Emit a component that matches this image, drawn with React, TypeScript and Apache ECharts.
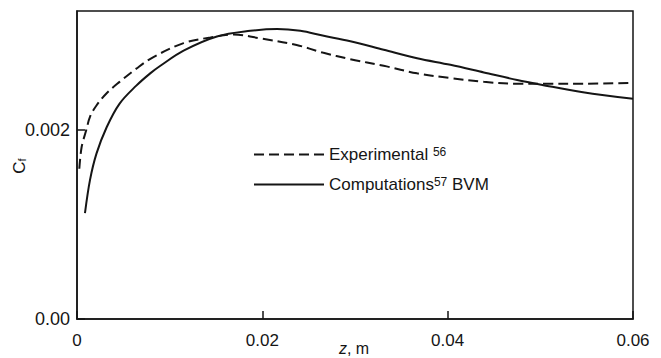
import React, { useEffect, useRef } from "react";
import * as echarts from "echarts";

// z, m
const expX = [0.00025, 0.0005, 0.001, 0.0014, 0.0021, 0.0032, 0.0046, 0.0064, 0.0082, 0.0115, 0.0144, 0.0169, 0.0198, 0.0237, 0.0265, 0.0295, 0.0331, 0.0367, 0.0403, 0.0439, 0.0475, 0.051, 0.0546, 0.06];
const expY = [0.00159, 0.00182, 0.002, 0.00214, 0.00226, 0.00239, 0.00251, 0.00265, 0.00277, 0.00292, 0.00298, 0.00301, 0.00297, 0.0029, 0.00282, 0.00275, 0.00268, 0.0026, 0.00255, 0.00251, 0.00249, 0.00249, 0.00249, 0.0025];

const compX = [0.00086, 0.0014, 0.0021, 0.0032, 0.0046, 0.0064, 0.0079, 0.009, 0.0115, 0.0151, 0.0187, 0.0216, 0.0241, 0.0265, 0.0295, 0.0331, 0.0367, 0.0403, 0.0439, 0.0475, 0.0501, 0.0546, 0.06];
const compY = [0.00112, 0.00147, 0.00175, 0.00203, 0.00228, 0.00247, 0.0026, 0.00268, 0.00284, 0.00299, 0.00305, 0.00307, 0.00305, 0.003, 0.00294, 0.00285, 0.00276, 0.00269, 0.00261, 0.00253, 0.00248, 0.0024, 0.00233];

const xTicks = [0, 0.02, 0.04, 0.06];
const yTickLabels: Record<string, string> = { "0": "0.00", "0.002": "0.002" };
const seriesNames = ["Experimental", "Computations"];

const FONT = "Liberation Sans";
const INK = "#151515";

export default function App() {
  const ref = useRef<HTMLDivElement>(null);
  useEffect(() => {
    if (!ref.current) return;
    const chart = echarts.init(ref.current, null, { renderer: "svg" });
    const zip = (xs: number[], ys: number[]) => xs.map((x, i) => [x, ys[i]]);
    chart.setOption({
      animation: false,
      backgroundColor: "#fff",
      grid: {
        left: 77,
        right: 28,
        top: 11,
        bottom: 39,
        show: true,
        borderColor: INK,
        borderWidth: 1.5,
        outerBoundsMode: "none",
        containLabel: false,
      },
      graphic: [
        {
          type: "text",
          x: 19,
          y: 166,
          rotation: Math.PI / 2,
          style: {
            text: "{c|C}{s|f}",
            align: "center",
            verticalAlign: "middle",
            fill: INK,
            rich: {
              c: { fontFamily: FONT, fontSize: 17, fill: INK, color: INK },
              s: { fontFamily: FONT, fontSize: 11, fill: INK, color: INK, verticalAlign: "bottom" },
            },
          },
        },
        {
          type: "text",
          x: 354,
          y: 348,
          style: {
            text: "{i|z}, m",
            align: "center",
            verticalAlign: "middle",
            fill: INK,
            rich: {
              i: { fontFamily: FONT, fontSize: 16, fontStyle: "italic", fill: INK, color: INK },
            },
            font: "16px 'Liberation Sans'",
          },
        },
      ],
      legend: {
        orient: "vertical",
        left: 248,
        top: 141,
        itemWidth: 70,
        itemHeight: 14,
        itemGap: 13,
        data: seriesNames,
        itemStyle: { color: "rgba(0,0,0,0)", borderWidth: 0, opacity: 0 },
        textStyle: {
          fontFamily: FONT,
          fontSize: 17,
          color: INK,
          rich: {
            sup: { fontFamily: FONT, fontSize: 12, color: INK, verticalAlign: "top", lineHeight: 12 },
          },
        },
        formatter: (name: string) =>
          name === "Experimental" ? "Experimental {sup|56}" : "Computations{sup|57} BVM",
      },
      xAxis: {
        type: "value",
        min: 0,
        max: 0.06,
        interval: 0.02,
        axisLine: { show: true, lineStyle: { color: INK, width: 1.5 } },
        axisTick: { show: true, inside: true, length: 8, lineStyle: { color: INK, width: 1.5 } },
        axisLabel: {
          fontFamily: FONT,
          fontSize: 17,
          color: INK,
          margin: 13,
          formatter: (v: number) => {
            const t = xTicks.find((k) => Math.abs(k - v) < 1e-9);
            if (t === undefined) return "";
            return t === 0 ? "0" : t.toFixed(2);
          },
        },
        splitLine: { show: false },
      },
      yAxis: {
        type: "value",
        min: 0,
        max: 0.00326,
        interval: 0.002,
        axisLine: { show: true, lineStyle: { color: INK, width: 1.5 } },
        axisTick: { show: true, inside: true, length: 8, lineStyle: { color: INK, width: 1.5 } },
        axisLabel: {
          fontFamily: FONT,
          fontSize: 18,
          color: INK,
          margin: 7,
          showMaxLabel: false,
          formatter: (v: number) => {
            const key = Math.abs(v) < 1e-9 ? "0" : Math.abs(v - 0.002) < 1e-9 ? "0.002" : "";
            return key ? yTickLabels[key] : "";
          },
        },
        splitLine: { show: false },
      },
      series: [
        {
          name: seriesNames[0],
          type: "line",
          data: zip(expX, expY),
          symbol: "none",
          smooth: 0.35,
          lineStyle: { color: INK, width: 2, type: [10, 5] },
          itemStyle: { color: INK },
        },
        {
          name: seriesNames[1],
          type: "line",
          data: zip(compX, compY),
          symbol: "none",
          smooth: 0.35,
          lineStyle: { color: INK, width: 2, type: "solid" },
          itemStyle: { color: INK },
        },
      ],
    });
    return () => chart.dispose();
  }, []);
  return <div ref={ref} style={{ width: 661, height: 358, position: "absolute", left: 0, top: 0 }} />;
}
